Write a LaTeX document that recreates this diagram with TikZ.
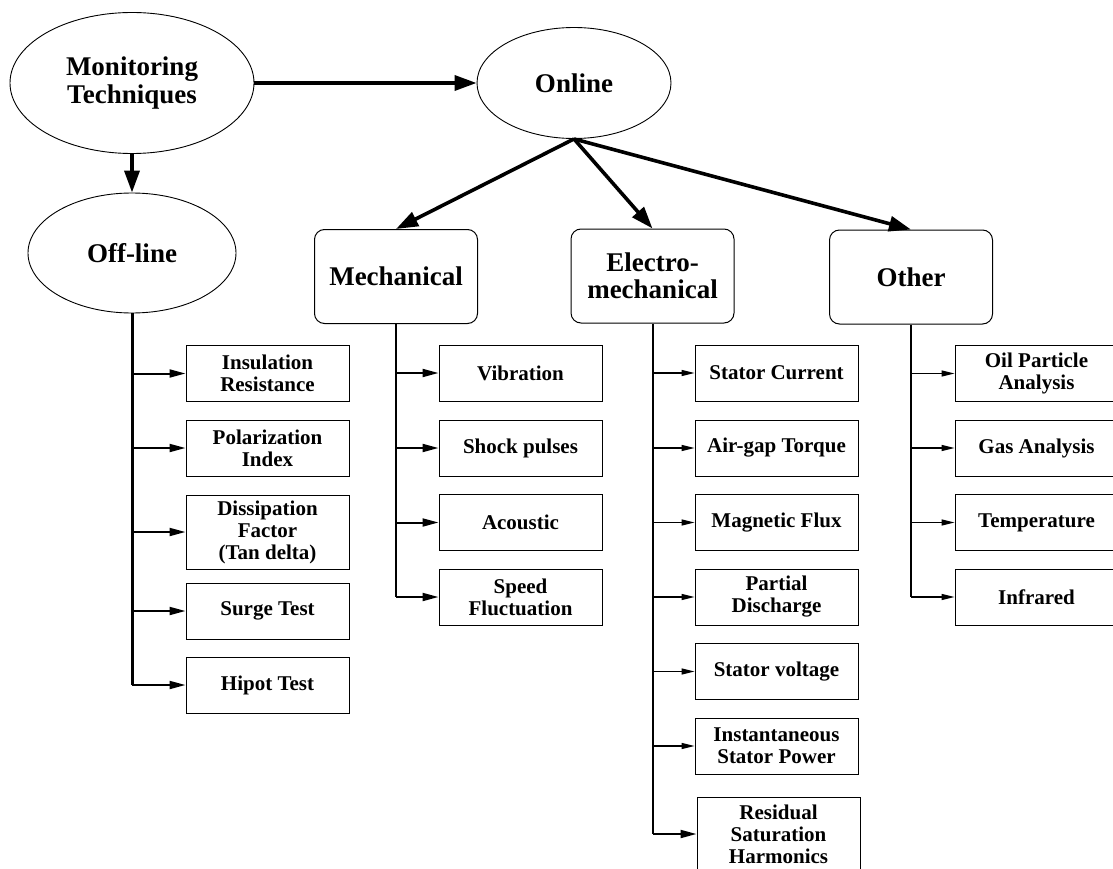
\documentclass[tikz,border=0pt]{standalone}
\usepackage{fontspec}
\setmainfont{Liberation Serif}
\usetikzlibrary{shapes.geometric,arrows.meta}
\begin{document}
\begin{tikzpicture}[x=1pt,y=-1pt,
 ell/.style={ellipse,draw,line width=0.9pt,inner sep=0pt,font=\fontsize{27}{28}\selectfont\bfseries,align=center},
 head/.style={draw,rounded corners=10pt,line width=1pt,minimum width=163pt,minimum height=94pt,inner sep=0pt,font=\fontsize{27}{27}\selectfont\bfseries,align=center},
 leaf/.style={draw,line width=1pt,minimum width=163pt,minimum height=56pt,inner sep=0pt,font=\fontsize{21}{22}\selectfont\bfseries,align=center},
 big/.style={line width=3.6pt,-{Triangle[length=22pt,width=15pt]}},
 brA/.style={line width=2pt,-{Triangle[length=16pt,width=8pt]}},
 brB/.style={line width=1.3pt,-{Triangle[length=13pt,width=6pt]}},
]
\useasboundingbox (0,0) rectangle (1113,869);

% top level
\node[ell,minimum width=244pt,minimum height=141pt] (mon) at (132,83) {Monitoring\\Techniques};
\node[ell,minimum width=194pt,minimum height=111pt] (onl) at (574,83) {Online};
\node[ell,minimum width=208pt,minimum height=120pt] (off) at (132,253) {Off-line};

% category boxes
\node[head] (mech) at (396,276.5) {Mechanical};
\node[head] (elec) at (652.5,276) {Electro-\\mechanical};
\node[head] (oth) at (911,277) {Other};

% off-line leaves
\node[leaf] (ins) at (267.5,373.5) {Insulation\\Resistance};
\node[leaf] (pol) at (267.5,448) {Polarization\\Index};
\node[leaf,minimum height=74pt] (dis) at (267.5,532) {Dissipation\\Factor\\(Tan delta)};
\node[leaf] (sur) at (267.5,611) {Surge Test};
\node[leaf] (hip) at (267.5,685) {Hipot Test};

% mechanical leaves
\node[leaf] (vib) at (520.5,373) {Vibration};
\node[leaf] (sho) at (520.5,448) {Shock pulses};
\node[leaf] (aco) at (520.5,522.5) {Acoustic};
\node[leaf] (spe) at (520.5,597) {Speed\\Fluctuation};

% electromechanical leaves
\node[leaf] (cur) at (776.5,373) {Stator Current};
\node[leaf] (air) at (776.5,448) {Air-gap Torque};
\node[leaf] (mag) at (776.5,522.5) {Magnetic Flux};
\node[leaf] (par) at (776.5,597) {Partial\\Discharge};
\node[leaf] (vol) at (776.5,671.5) {Stator voltage};
\node[leaf] (isp) at (776.5,746) {Instantaneous\\Stator Power};
\node[leaf,minimum height=74pt] (res) at (778.5,834) {Residual\\Saturation\\Harmonics};

% other leaves
\node[leaf] (oil) at (1036.5,373.5) {Oil Particle\\Analysis};
\node[leaf] (gas) at (1036.5,448) {Gas Analysis};
\node[leaf] (tem) at (1036.5,522.5) {Temperature};
\node[leaf] (inf) at (1036.5,597) {Infrared};

% main arrows
\draw[big] (mon.east) -- (onl.west);
\draw[big] (mon.south) -- (off.north);
\draw[big] (onl.south) -- (mech.north);
\draw[big] (onl.south) -- (elec.north);
\draw[big] (onl.south) -- (oth.north);

% off-line trunk
\draw[line width=3pt] (off.south) -- (off.south |- hip.west);
\foreach \n in {ins,pol,dis,sur,hip}
  \draw[brA] (off.south |- \n.west) -- (\n.west);

% mechanical trunk
\draw[line width=2.5pt] (mech.south) -- (mech.south |- spe.west);
\foreach \n in {vib,sho,aco,spe}
  \draw[brA] (mech.south |- \n.west) -- (\n.west);

% electromechanical trunk
\draw[line width=2pt] (elec.south) -- (elec.south |- res.west);
\foreach \n in {cur,air,mag,par,vol,isp}
  \draw[brB] (elec.south |- \n.west) -- (\n.west);
\draw[brA] (elec.south |- res.west) -- (res.west);

% other trunk
\draw[line width=1.7pt] (oth.south) -- (oth.south |- inf.west);
\foreach \n in {oil,gas,tem,inf}
  \draw[brB] (oth.south |- \n.west) -- (\n.west);
\end{tikzpicture}
\end{document}
